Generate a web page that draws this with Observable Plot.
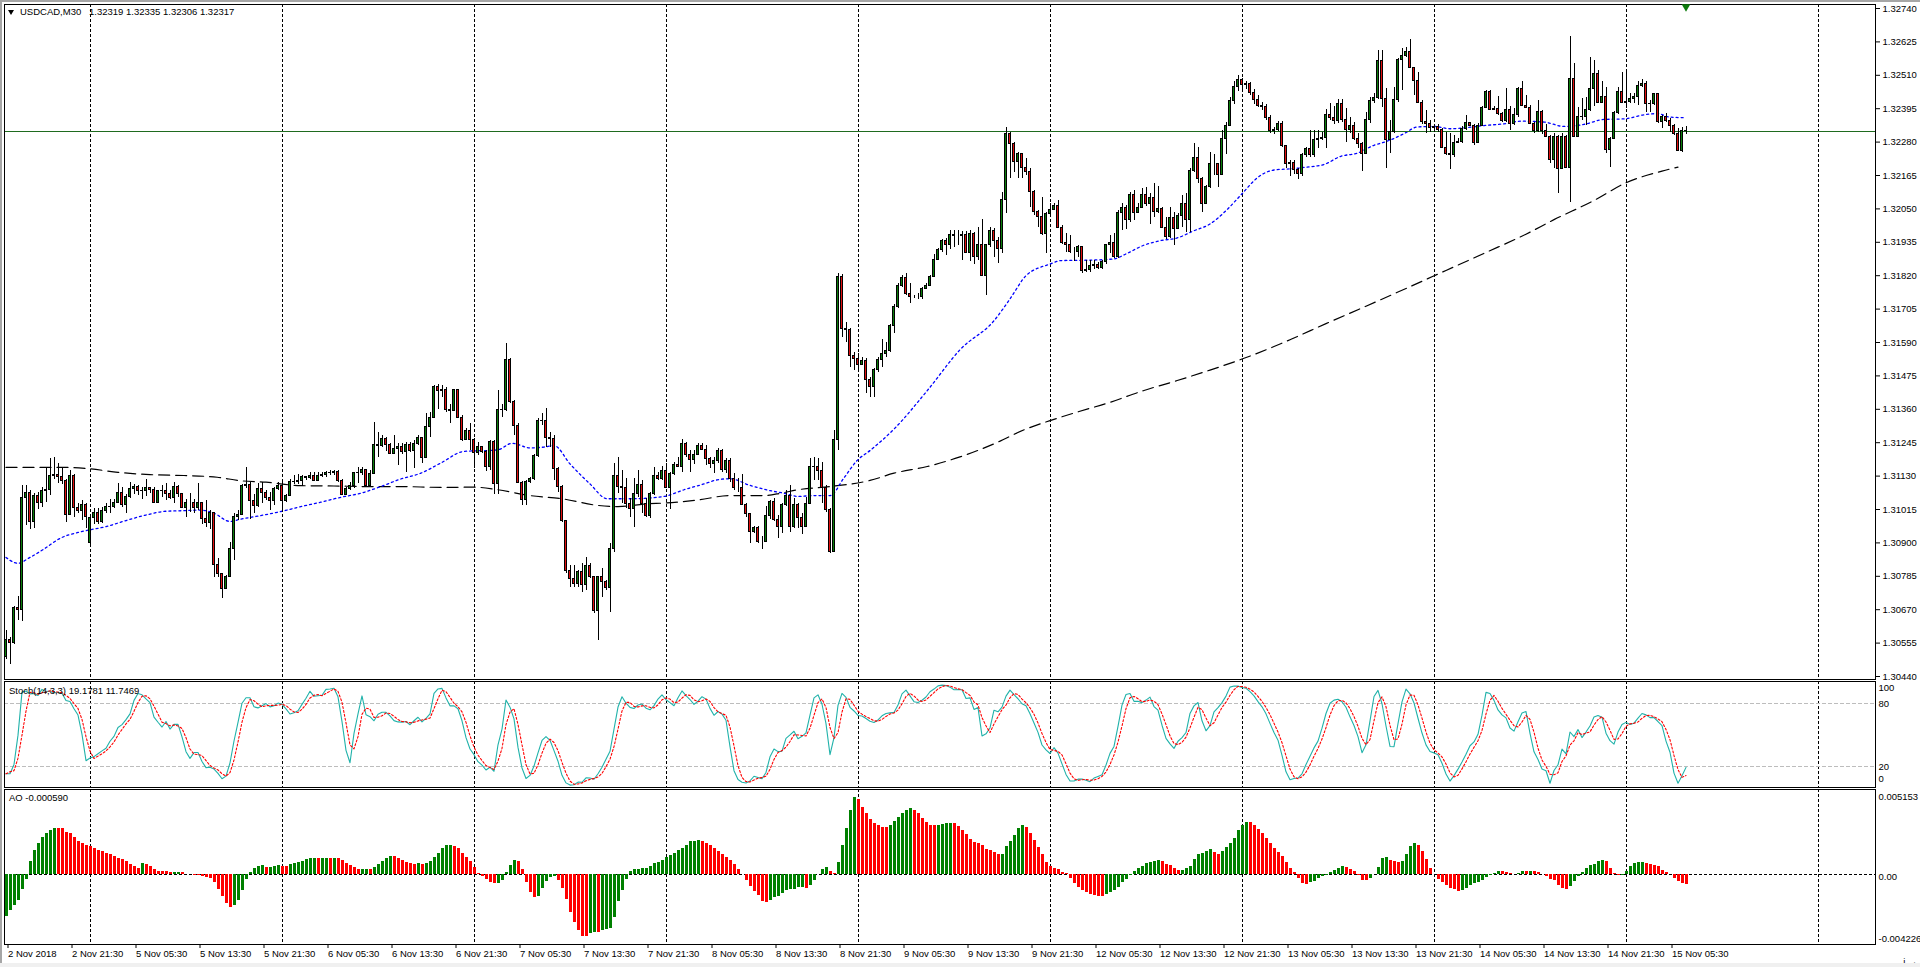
<!DOCTYPE html>
<html><head><meta charset="utf-8">
<script src="https://cdn.jsdelivr.net/npm/d3@7"></script>
<script src="https://cdn.jsdelivr.net/npm/@observablehq/plot@0.6"></script>
<style>
html,body{margin:0;padding:0;background:#fff;}
#wrap{position:relative;width:1920px;height:967px;background:#fff;overflow:hidden;font-family:"Liberation Sans",Arial,sans-serif;}
#wrap svg{position:absolute;left:0;}
.lbl{position:absolute;font-size:9.5px;line-height:12px;color:#000;white-space:nowrap;}
</style></head><body><div id="wrap"></div><script>
// ---- DATA (prices in points of 0.00001 above BASE) ----
const BASE = 1.3, PT = 1e-5;
const symbolTitle = "USDCAD,M30";
const headerQuote = "1.32319 1.32335 1.32306 1.32317";
const stochLabel = "Stoch(14,3,3) 19.1781 11.7469";
const aoLabel = "AO -0.000590";
const lastPrice = 1.32317;

const close = [566,554,676,670,1055,1071,971,1063,1036,1077,1082,1132,1134,1126,1114,996,1132,1019,1009,1032,
988,986,1002,971,1011,1025,1023,1036,1072,1032,1059,1086,1094,1080,1077,1089,1082,1036,1080,1078,
1069,1054,1094,1069,1020,1036,1036,1020,1036,983,968,1002,824,793,741,784,879,990,996,1097,
1100,1043,1026,1086,1071,1054,1043,1086,1095,1043,1063,1111,1110,1114,1126,1124,1132,1114,1132,1134,
1141,1139,1143,1112,1065,1086,1095,1140,1141,1151,1097,1137,1237,1232,1258,1237,1206,1224,1229,1212,
1237,1218,1241,1261,1191,1298,1330,1436,1424,1425,1356,1355,1425,1331,1255,1287,1253,1209,1230,1212,
1161,1247,1103,1356,1358,1530,1385,1304,1107,1048,1109,1121,1198,1318,1320,1261,1258,1155,1092,975,
803,776,759,799,756,822,782,667,782,765,745,880,1132,1092,1090,1035,1017,1069,1098,1035,
994,1069,1132,1121,1149,1090,1138,1167,1163,1239,1201,1186,1204,1232,1221,1190,1170,1181,1216,1152,
1181,1121,1090,1090,1032,998,937,952,903,903,991,1040,979,954,1032,1060,956,1032,986,954,
1035,1163,1161,1147,1090,1012,868,1255,1817,1636,1634,1542,1534,1511,1528,1462,1436,1495,1530,1551,
1560,1648,1711,1786,1811,1757,1746,1746,1746,1774,1786,1817,1874,1909,1941,1924,1960,1958,1958,1960,
1897,1964,1883,1927,1820,1924,1973,1941,1912,2079,2308,2274,2211,2239,2191,2176,2107,2038,2021,1964,
2033,2046,2061,1985,1932,1927,1901,1901,1918,1835,1838,1855,1858,1847,1866,1927,1932,1883,2035,2053,
2012,2099,2035,2053,2099,2067,2087,2038,2050,1985,1952,2019,1981,2027,2067,2012,2180,2226,2152,2067,
2125,2205,2205,2168,2291,2337,2423,2470,2495,2475,2480,2450,2425,2406,2400,2363,2317,2320,2343,2265,
2205,2207,2184,2171,2237,2257,2234,2286,2291,2295,2374,2363,2352,2410,2355,2320,2334,2291,2274,2240,
2355,2420,2432,2558,2429,2286,2314,2426,2561,2578,2590,2536,2490,2414,2349,2343,2329,2332,2320,2260,
2240,2234,2276,2279,2326,2345,2337,2276,2337,2398,2452,2391,2394,2377,2352,2389,2341,2372,2464,2406,
2398,2343,2318,2383,2318,2297,2217,2299,2188,2297,2192,2498,2299,2366,2368,2389,2464,2515,2414,2437,
2254,2291,2380,2452,2414,2418,2428,2435,2472,2479,2412,2410,2444,2349,2368,2352,2334,2309,2251,2319,
2317];
const high = [598,575,680,716,1097,1097,1080,1069,1074,1092,1160,1192,1195,1172,1160,1117,1149,1137,1036,1046,
1034,994,1017,1017,1023,1034,1048,1051,1103,1092,1068,1109,1101,1097,1092,1120,1092,1092,1082,1097,
1105,1080,1109,1096,1071,1051,1071,1051,1105,1040,1046,1011,1002,847,795,787,902,1000,1011,1101,
1160,1109,1068,1105,1109,1080,1074,1091,1109,1117,1068,1117,1132,1137,1132,1130,1143,1143,1143,1143,
1147,1149,1149,1149,1117,1091,1109,1143,1158,1160,1151,1149,1313,1281,1269,1264,1241,1269,1241,1241,
1246,1246,1252,1269,1264,1344,1350,1442,1445,1442,1436,1377,1427,1425,1339,1293,1310,1260,1247,1232,
1218,1253,1253,1425,1377,1585,1534,1390,1310,1111,1115,1126,1204,1327,1344,1362,1281,1270,1161,1098,
977,822,822,805,828,851,828,784,784,811,770,897,1172,1195,1149,1121,1052,1121,1149,1115,
1052,1075,1161,1144,1163,1172,1144,1178,1195,1255,1247,1218,1218,1241,1241,1235,1195,1195,1224,1221,
1190,1190,1138,1121,1136,1035,1000,956,956,922,1025,1046,1052,994,1037,1080,1098,1052,1035,1000,
1057,1190,1193,1190,1178,1098,1017,1287,1829,1824,1660,1637,1557,1551,1537,1534,1471,1499,1539,1599,
1591,1652,1720,1794,1820,1826,1794,1751,1757,1780,1792,1820,1893,1912,1943,1947,1975,1975,1975,1973,
1973,1975,1970,1987,2015,1929,1985,1981,1952,2107,2329,2314,2280,2245,2242,2222,2188,2115,2044,2090,
2038,2067,2069,2079,1993,1964,1958,1918,1924,1918,1872,1874,1874,1866,1874,1929,1958,1964,2044,2067,
2061,2107,2115,2067,2119,2125,2102,2136,2127,2056,2021,2056,2038,2033,2096,2102,2188,2276,2260,2157,
2130,2245,2239,2205,2320,2348,2435,2490,2510,2500,2490,2485,2460,2440,2415,2410,2370,2330,2350,2350,
2270,2215,2215,2190,2240,2263,2320,2320,2320,2314,2391,2412,2403,2426,2426,2395,2366,2349,2309,2280,
2383,2435,2446,2596,2596,2464,2355,2469,2567,2601,2607,2632,2538,2521,2423,2389,2355,2337,2341,2326,
2314,2309,2303,2291,2334,2372,2349,2341,2343,2403,2458,2458,2401,2437,2383,2464,2401,2395,2469,2487,
2441,2406,2349,2423,2389,2341,2303,2309,2303,2309,2303,2642,2550,2400,2429,2435,2573,2561,2525,2487,
2469,2297,2387,2469,2521,2521,2446,2446,2487,2495,2487,2423,2446,2444,2372,2377,2360,2340,2326,2331,
2335];
const low = [500,483,550,632,630,959,945,948,1015,1023,1040,1063,1120,1103,1101,971,994,988,1000,977,
948,887,965,963,967,1002,1002,1017,1034,1023,1000,1054,1068,1063,1048,1059,1071,1034,1034,1057,
1045,1051,1036,1057,1017,986,1005,1002,1011,965,954,945,782,782,707,741,781,839,977,994,
1086,979,1000,1023,1034,1046,1013,1028,1080,1005,1040,1060,1101,1101,1094,1114,1117,1112,1112,1126,
1126,1132,1132,1109,1062,1068,1082,1086,1103,1132,1091,1103,1134,1193,1229,1215,1204,1204,1166,1206,
1143,1212,1155,1235,1172,1189,1264,1327,1361,1402,1350,1312,1356,1327,1250,1253,1218,1155,1201,1207,
1147,1149,1067,1067,1333,1354,1379,1270,1103,1029,1029,1103,1115,1195,1304,1230,1230,1115,1075,971,
796,748,748,745,730,736,776,658,564,713,736,661,868,1069,1035,1017,989,954,1057,1000,
989,983,1063,1115,1115,1086,1014,1132,1159,1144,1195,1144,1170,1201,1218,1167,1155,1140,1172,1144,
1140,1109,1080,1075,1029,989,899,933,897,876,908,979,975,914,931,1025,937,948,948,929,
952,1032,1115,1115,1035,1006,865,868,1218,1606,1591,1505,1494,1485,1511,1416,1402,1401,1487,1505,
1539,1556,1622,1706,1780,1751,1725,1740,1737,1737,1774,1782,1815,1874,1901,1889,1909,1918,1924,1872,
1895,1870,1858,1872,1820,1751,1918,1883,1863,1895,2033,2153,2176,2153,2153,2165,2056,2027,1987,1958,
1897,2027,2044,1981,1929,1901,1895,1870,1883,1826,1832,1832,1843,1843,1843,1860,1895,1878,1878,1975,
1978,2004,2010,2033,2050,2058,1998,2021,2035,1981,1943,1947,1924,1981,1987,1970,1970,2176,2136,2038,
2067,2119,2165,2125,2165,2237,2343,2410,2455,2460,2460,2440,2410,2400,2390,2355,2310,2305,2315,2260,
2190,2160,2170,2150,2162,2228,2228,2228,2257,2286,2257,2355,2341,2343,2349,2277,2309,2286,2257,2180,
2237,2343,2412,2426,2398,2188,2240,2309,2418,2458,2573,2532,2441,2412,2341,2309,2314,2314,2314,2257,
2234,2185,2228,2274,2274,2320,2332,2268,2274,2334,2395,2389,2389,2372,2349,2349,2320,2337,2366,2403,
2395,2341,2309,2314,2306,2295,2205,2188,2102,2185,2188,2073,2297,2309,2355,2337,2387,2401,2412,2412,
2240,2194,2288,2375,2412,2395,2412,2414,2406,2469,2383,2383,2406,2343,2326,2349,2314,2303,2249,2245,
2306];
// bars open at the previous close except where the quote gapped (start of chart, Monday open)
const openGaps = {0: 506, 21: 899};

// fast (blue dotted) and slow (black dashed) moving averages: [bar index, points]
const fastMA = [[0,850],[2,833],[3,830],[6,850],[9.5,879],[13.7,917],[18,936],[21,945],[25,956],[30,977],[35,996],
[40,1009],[44.5,1011],[48.7,1013],[52,1002],[56,974],[58.7,982],[63.7,994],[69,1009],[73.7,1025],[78.7,1040],
[83.7,1057],[88.7,1071],[93.7,1094],[98.7,1120],[103.7,1140],[108.7,1175],[114.5,1215],[122.8,1220],[126.6,1243],
[131,1227],[134.5,1230],[137,1235],[141,1172],[146,1103],[150.3,1052],[156,1052],[164.5,1060],[169.5,1083],
[174.5,1103],[177.8,1117],[181,1121],[186,1098],[191,1080],[194.5,1071],[198,1060],[202,1063],[206,1063],
[209.5,1124],[212.8,1184],[216,1218],[222,1292],[230.3,1424],[238.7,1568],[247,1665],[251,1740],[255,1820],
[261,1860],[263.7,1872],[272,1874],[277,1878],[280.3,1897],[284.3,1924],[288.7,1941],[292.8,1950],[297,1975],
[301,1998],[305,2044],[309,2102],[313,2159],[317,2184],[321.2,2188],[325.3,2194],[329.5,2203],[333.7,2231],
[337.8,2242],[342,2269],[345.3,2283],[349.5,2309],[352.8,2332],[357,2334],[361,2326],[364.5,2329],[369.5,2337],
[374.5,2343],[378.7,2352],[384.5,2349],[389.5,2334],[394.5,2341],[399.5,2358],[404.5,2360],[409.5,2374],
[412.8,2378],[416,2366],[420,2364]];
const slowMA = [[0,1160],[9.5,1160],[15,1160],[21,1155],[28,1143],[36,1135],[44.5,1132],[52.8,1126],[58.7,1114],
[65,1109],[73.7,1097],[82,1096],[90,1094],[98.7,1094],[108.7,1091],[117,1092],[123,1083],[131,1063],[139,1052],
[148,1029],[153,1025],[160.5,1035],[164.5,1037],[173,1048],[181,1063],[189.5,1063],[193.7,1071],[198,1083],
[206,1094],[216,1115],[222,1140],[230.3,1163],[238.7,1197],[247,1241],[255,1292],[261,1321],[267.7,1350],
[276,1384],[284.3,1424],[292.8,1459],[301,1495],[309,1533],[317,1576],[321.4,1602],[330,1655],[340,1715],
[350,1776],[360,1838],[370,1900],[380,1963],[387,2013],[397,2079],[405,2140],[414,2180],[418,2194]];
// indicator values at the left edge (their look-back lies before the first visible bar)
const aoLead = [-0.0026,-0.0022,-0.0019,-0.0016,-0.0009,-0.0003,0.0008,0.0015,0.0019,0.0023,0.0025,0.0027,0.0028,
0.0028,0.0028,0.0026,0.0025,0.0023,0.0020,0.0019,0.0018,0.0017,0.0016,0.0015,0.0014,0.0013,0.0012,0.0011,0.0010,
0.0009,0.0008,0.0006,0.0005,0.0004];
const stochLeadK = [13, 13, 22, 50];
const stochLeadD = [13, 15, 16, 28, 50, 73];

const priceTicks = [1.30440,1.30555,1.30670,1.30785,1.30900,1.31015,1.31130,1.31245,1.31360,1.31475,1.31590,
1.31705,1.31820,1.31935,1.32050,1.32165,1.32280,1.32395,1.32510,1.32625,1.32740];
const dayStarts = [21,69,117,165,213,261,309,357,405,453];
const timeTicks = [0,16,32,48,64,80,96,112,128,144,160,176,192,208,224,240,256,272,288,304,320,336,352,368,384,400,416];
const timeLabels = ["2 Nov 2018","2 Nov 21:30","5 Nov 05:30","5 Nov 13:30","5 Nov 21:30","6 Nov 05:30","6 Nov 13:30",
"6 Nov 21:30","7 Nov 05:30","7 Nov 13:30","7 Nov 21:30","8 Nov 05:30","8 Nov 13:30","8 Nov 21:30","9 Nov 05:30",
"9 Nov 13:30","9 Nov 21:30","12 Nov 05:30","12 Nov 13:30","12 Nov 21:30","13 Nov 05:30","13 Nov 13:30",
"13 Nov 21:30","14 Nov 05:30","14 Nov 13:30","14 Nov 21:30","15 Nov 05:30"];
const stochLevels = [80, 20];
const stochTop = [100], stochBottom = [0];
const aoTop = [0.005153], aoZero = [0], aoBottom = [-0.004226];
const aoTopText = "0.005153", aoZeroText = "0.00", aoBottomText = "-0.004226";

// ---- build tables ----
const bars = close.map((c, i) => {
  const o = BASE + ((i in openGaps) ? openGaps[i] : close[i - 1]) * PT;
  const cc = BASE + c * PT;
  return {i, o, c: cc, h: Math.max(BASE + high[i] * PT, o, cc), l: Math.min(BASE + low[i] * PT, o, cc)};
});
const n = bars.length;
// Stochastic (14,3,3) and Awesome Oscillator derived from the bars
const num = [], den = [], K = [], D = [], ao = [];
for (let i = 0; i < n; i++) {
  const w = bars.slice(Math.max(0, i - 13), i + 1);
  const lo = d3.min(w, d => d.l), hi = d3.max(w, d => d.h);
  num[i] = bars[i].c - lo; den[i] = hi - lo;
  const sn = d3.sum(num.slice(Math.max(0, i - 2), i + 1)), sd = d3.sum(den.slice(Math.max(0, i - 2), i + 1));
  K[i] = i < stochLeadK.length ? stochLeadK[i] : (sd > 0 ? 100 * sn / sd : 50);
}
for (let i = 0; i < n; i++) D[i] = i < stochLeadD.length ? stochLeadD[i] : d3.mean(K.slice(i - 2, i + 1));
const med = bars.map(b => (b.h + b.l) / 2);
for (let i = 0; i < n; i++) ao[i] = i < aoLead.length ? aoLead[i] :
  d3.mean(med.slice(i - 4, i + 1)) - d3.mean(med.slice(i - 33, i + 1));
const stoch = bars.map((b, i) => ({i, k: K[i], d: D[i]}));
const aoData = ao.map((v, i) => ({i, v, up: i === 0 || v > ao[i - 1]}));

// ---- styling ----
const W = 1920;
const FONT = '"Liberation Sans", Arial, sans-serif';
const BULL = "#0a7d0a", BEAR = "#e01010";
const X = {type: "linear", domain: [0, 420], range: [5.5, 1685.5], axis: null};
const base = {width: W, marginLeft: 4, marginRight: 45, style: {fontFamily: FONT, fontSize: "9.5px", background: "transparent", color: "black", overflow: "visible"}, color: {type: "identity"}};
const grid = () => Plot.ruleX(dayStarts, {x: d => d, stroke: "black", strokeDasharray: "3,2", shapeRendering: "crispEdges"});

const main = Plot.plot({
  ...base, height: 681, marginTop: 4, marginBottom: 2,
  x: X, y: {domain: [1.3044, 1.3274], range: [676, 8], axis: null},
  marks: [
    grid(),
    Plot.line(slowMA, {x: d => d[0], y: d => BASE + d[1] * PT, stroke: "black", strokeWidth: 1.2, strokeDasharray: "11,6", curve: "monotone-x"}),
    Plot.line(fastMA, {x: d => d[0], y: d => BASE + d[1] * PT, stroke: "#0000ff", strokeWidth: 1.3, strokeDasharray: "2,3", curve: "monotone-x"}),
    Plot.ruleY([lastPrice], {y: d => d, stroke: "#1f6b1f", shapeRendering: "crispEdges"}),
    Plot.ruleX(bars, {x: "i", y1: "l", y2: "h", stroke: "black", shapeRendering: "crispEdges"}),
    Plot.rect(bars, {x1: d => d.i - 0.3, x2: d => d.i + 0.3, y1: "o", y2: "c", fill: d => d.c >= d.o ? BULL : BEAR, stroke: "black", shapeRendering: "crispEdges"}),
    Plot.frame({stroke: "black", shapeRendering: "crispEdges"}),
    Plot.axisY(priceTicks, {anchor: "right", tickSize: 4, tickPadding: 3, tickFormat: d => d.toFixed(5), fontSize: 9.5}),
    Plot.text([lastPrice], {y: d => d, text: d => d.toFixed(5), frameAnchor: "right", textAnchor: "start", dx: 5, fill: "white", fontSize: 9.5, ariaLabel: "last-price"}),
    Plot.dot([420], {x: d => d, frameAnchor: "top", symbol: "triangle", rotate: 180, r: 3.2, fill: "#0b7a0b", dy: 2.2})
  ]
});

const stochPlot = Plot.plot({
  ...base, height: 109, marginTop: 1, marginBottom: 2,
  x: X, y: {domain: [0, 100], range: [106.9, 2.4], axis: null},
  marks: [
    grid(),
    Plot.ruleY(stochLevels, {y: d => d, stroke: "#bdbdbd", strokeDasharray: "4,2", shapeRendering: "crispEdges"}),
    Plot.line(stoch, {x: "i", y: "k", stroke: "#20b2aa", strokeWidth: 1.1}),
    Plot.line(stoch, {x: "i", y: "d", stroke: "#ff0000", strokeWidth: 1.1, strokeDasharray: "2,2"}),
    Plot.frame({stroke: "black", shapeRendering: "crispEdges"}),
    Plot.text(stochLevels, {y: d => d, text: d => String(d), frameAnchor: "right", textAnchor: "start", dx: 3, fontSize: 9.5}),
    Plot.text(stochTop, {y: d => d, text: d => String(d), frameAnchor: "right", textAnchor: "start", dx: 3, dy: 5, fontSize: 9.5}),
    Plot.text(stochBottom, {y: d => d, text: d => String(d), frameAnchor: "right", textAnchor: "start", dx: 3, dy: -8, fontSize: 9.5})
  ]
});

const aoPlot = Plot.plot({
  ...base, height: 179, marginTop: 1, marginBottom: 23,
  x: X, y: {domain: [-0.004226, 0.005153], range: [155, 2], axis: null},
  marks: [
    grid(),
    Plot.ruleY([0], {y: d => d, stroke: "black", strokeDasharray: "3,2", shapeRendering: "crispEdges"}),
    Plot.ruleX(aoData, {x: "i", y1: 0, y2: "v", stroke: d => d.up ? "#008000" : "#ff0000", strokeWidth: 3, shapeRendering: "crispEdges"}),
    Plot.frame({stroke: "black", shapeRendering: "crispEdges"}),
    Plot.text(aoTop, {y: d => d, text: () => aoTopText, frameAnchor: "right", textAnchor: "start", dx: 3, dy: 6, fontSize: 9.5}),
    Plot.text(aoZero, {y: d => d, text: () => aoZeroText, frameAnchor: "right", textAnchor: "start", dx: 3, dy: 2, fontSize: 9.5}),
    Plot.text(aoBottom, {y: d => d, text: () => aoBottomText, frameAnchor: "right", textAnchor: "start", dx: 3, dy: -5, fontSize: 9.5}),
    Plot.axisX(timeTicks, {anchor: "bottom", tickSize: 4, tickPadding: 2, textAnchor: "start", dx: 2, tickFormat: d => timeLabels[timeTicks.indexOf(d)], fontSize: 9.5})
  ]
});

const wrap = document.getElementById("wrap");
const strip = (css) => { const d = document.createElement("div"); d.style.cssText = "position:absolute;" + css; wrap.appendChild(d); };
main.style.top = "0px"; stochPlot.style.top = "680px"; aoPlot.style.top = "788px";
wrap.appendChild(main); wrap.appendChild(stochPlot); wrap.appendChild(aoPlot);
strip("left:0;top:0;width:1920px;height:2px;background:#a6a6a6;");
strip("left:0;top:0;width:2px;height:967px;background:#a6a6a6;");
strip("left:0;top:963px;width:1920px;height:4px;background:#f0f0f0;");

// black box behind the current price label
const t = d3.select(main).select('g[aria-label="last-price"] text');
if (!t.empty()) {
  const bb = t.node().getBBox();
  d3.select(t.node().parentNode).insert("rect", "text")
    .attr("x", bb.x - 2).attr("y", bb.y - 0.5).attr("width", bb.width + 6).attr("height", bb.height + 1).attr("fill", "black");
}

// header and indicator titles
const lbl = (txt, css) => { const d = document.createElement("div"); d.className = "lbl"; d.style.cssText += css; d.textContent = txt; wrap.appendChild(d); };
strip("left:8px;top:10px;width:0;height:0;border-left:3.5px solid transparent;border-right:3.5px solid transparent;border-top:5px solid #000;");
lbl(symbolTitle, "left:20px;top:6px;");
lbl(headerQuote, "left:89px;top:6px;");
lbl(stochLabel, "left:9px;top:685px;");
lbl(aoLabel, "left:9px;top:792px;");
</script></body></html>
